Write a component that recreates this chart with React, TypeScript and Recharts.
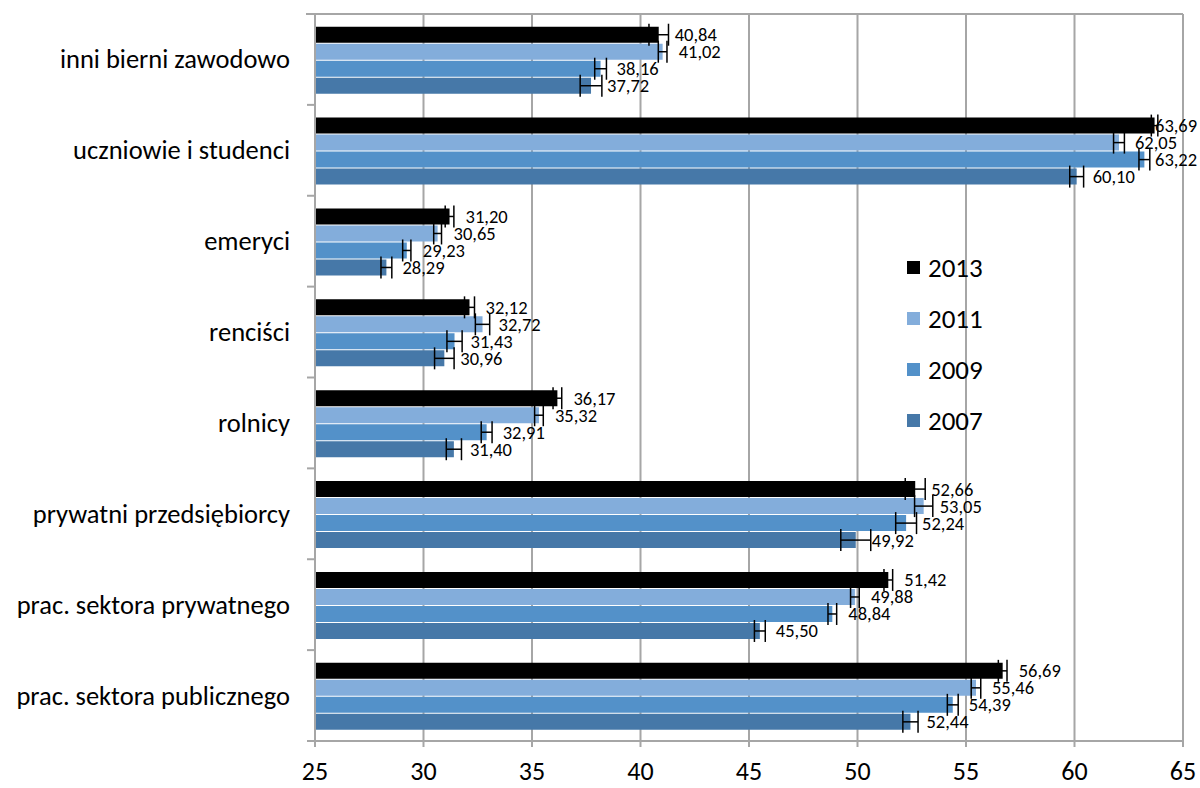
import React from 'react';
import {
  BarChart,
  Bar,
  XAxis,
  YAxis,
  CartesianGrid,
  ErrorBar,
  LabelList,
  Legend,
} from 'recharts';

const categories = [
  'inni bierni zawodowo',
  'uczniowie i studenci',
  'emeryci',
  'renciści',
  'rolnicy',
  'prywatni przedsiębiorcy',
  'prac. sektora prywatnego',
  'prac. sektora publicznego',
];

const years = ['2013', '2011', '2009', '2007'];

const values2013 = [40.84, 63.69, 31.2, 32.12, 36.17, 52.66, 51.42, 56.69];
const values2011 = [41.02, 62.05, 30.65, 32.72, 35.32, 53.05, 49.88, 55.46];
const values2009 = [38.16, 63.22, 29.23, 31.43, 32.91, 52.24, 48.84, 54.39];
const values2007 = [37.72, 60.1, 28.29, 30.96, 31.4, 49.92, 45.5, 52.44];

// estimated half-widths of the error bars
const errors2013 = [0.45, 0.15, 0.2, 0.23, 0.2, 0.46, 0.2, 0.2];
const errors2011 = [0.2, 0.25, 0.18, 0.33, 0.2, 0.42, 0.2, 0.22];
const errors2009 = [0.27, 0.25, 0.19, 0.35, 0.25, 0.48, 0.2, 0.25];
const errors2007 = [0.5, 0.32, 0.25, 0.45, 0.35, 0.69, 0.25, 0.35];

const xTicks = [25, 30, 35, 40, 45, 50, 55, 60, 65];

const COLORS = ['#000000', '#83addb', '#5391c9', '#4678a8'];

const CHART_W = 1200;
const CHART_H = 788;
const MARGIN = { top: 14, right: 17, bottom: 0, left: 0 };
const Y_AXIS_W = 315;
const AXIS_X = MARGIN.left + Y_AXIS_W;
const PLOT_RIGHT = CHART_W - MARGIN.right;
const FONT = 'Carlito, Lato, sans-serif';
const GRID = '#a6a6a6';

const seriesValues = [values2013, values2011, values2009, values2007];
const seriesErrors = [errors2013, errors2011, errors2009, errors2007];

const data = categories.map((name, i) => {
  const row: Record<string, string | number> = { name };
  years.forEach((y, s) => {
    row['v' + y] = seriesValues[s][i];
    row['e' + y] = seriesErrors[s][i];
  });
  return row;
});

const fmt = (v: number) => v.toFixed(2).replace('.', ',');

function CategoryTick(props: any) {
  const { y, payload, index } = props;
  const half = payload && payload.offset ? payload.offset : 45.4;
  const last = index === categories.length - 1;
  return (
    <g>
      {index === 0 && (
        <line x1={AXIS_X - 9} y1={y - half} x2={PLOT_RIGHT} y2={y - half} stroke={GRID} strokeWidth={2} />
      )}
      {index > 0 && (
        <line x1={AXIS_X - 8} y1={y - half} x2={AXIS_X} y2={y - half} stroke={GRID} strokeWidth={2} />
      )}
      {last && (
        <line x1={AXIS_X - 8} y1={y + half} x2={AXIS_X} y2={y + half} stroke={GRID} strokeWidth={2} />
      )}
      <text
        x={AXIS_X - 25}
        y={y}
        textAnchor="end"
        dominantBaseline="central"
        fontFamily={FONT}
        fontSize={26.5}
        fill="#000"
      >
        {payload.value}
      </text>
    </g>
  );
}

function ValueLabel(props: any) {
  const { x, y, width, height, value } = props;
  const lx = Math.min(x + width + 16, 1155);
  return (
    <text
      x={lx}
      y={y + height / 2}
      dominantBaseline="central"
      fontFamily={FONT}
      fontSize={18.5}
      fill="#000"
    >
      {fmt(value)}
    </text>
  );
}

function YearLegend() {
  return (
    <div style={{ fontFamily: FONT }}>
      {years.map((y, s) => (
        <div key={y} style={{ display: 'flex', alignItems: 'center', height: 51 }}>
          <span
            style={{
              display: 'inline-block',
              width: 13,
              height: 13,
              background: COLORS[s],
              marginRight: 8,
            }}
          />
          <span style={{ fontSize: 27, color: '#000' }}>{y}</span>
        </div>
      ))}
    </div>
  );
}

export default function App() {
  return (
    <div style={{ position: 'absolute', left: 0, top: 0, background: '#fff' }}>
      <BarChart
        width={CHART_W}
        height={CHART_H}
        data={data}
        layout="vertical"
        margin={MARGIN}
        barCategoryGap="14%"
        barGap={1}
        style={{ overflow: 'hidden' }}
      >
        <CartesianGrid horizontal={false} stroke={GRID} strokeWidth={2} />
        <XAxis
          type="number"
          domain={[25, 65]}
          ticks={xTicks}
          height={47}
          tickSize={6}
          tickMargin={15}
          stroke={GRID}
          strokeWidth={2}
          tick={{ fill: '#000', fontSize: 26, fontFamily: FONT }}
        />
        <YAxis
          type="category"
          dataKey="name"
          width={Y_AXIS_W}
          tickLine={false}
          stroke={GRID}
          strokeWidth={2}
          tick={<CategoryTick />}
          interval={0}
        />
        <Legend
          layout="vertical"
          align="center"
          verticalAlign="middle"
          wrapperStyle={{ left: 907, top: 242, width: 110 }}
          content={<YearLegend />}
        />
        {years.map((y, s) => (
          <Bar
            key={y}
            dataKey={'v' + y}
            name={y}
            fill={COLORS[s]}
            isAnimationActive={false}
          >
            <ErrorBar
              dataKey={'e' + y}
              direction="x"
              width={11}
              stroke="#000"
              strokeWidth={1.5}
              isAnimationActive={false}
            />
            <LabelList dataKey={'v' + y} content={<ValueLabel />} />
          </Bar>
        ))}
      </BarChart>
    </div>
  );
}
